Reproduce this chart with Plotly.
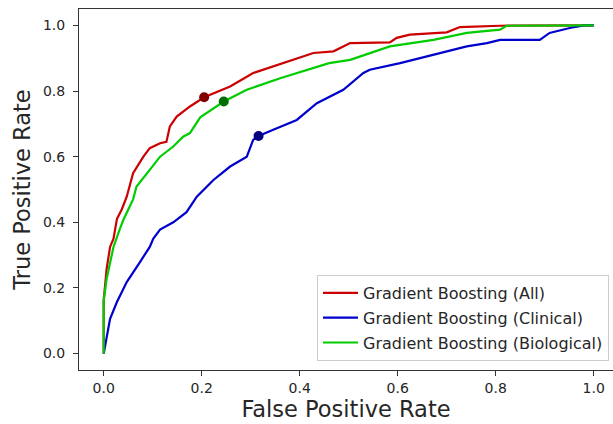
import plotly.graph_objects as go

names = ["Gradient Boosting (All)", "Gradient Boosting (Clinical)", "Gradient Boosting (Biological)"]

fpr_all = [0, 0, 0.006, 0.013, 0.02, 0.027, 0.037, 0.047, 0.06, 0.081, 0.094, 0.115, 0.128, 0.135,
           0.149, 0.176, 0.205, 0.258, 0.305, 0.346, 0.394, 0.428, 0.469, 0.503, 0.584, 0.598, 0.625,
           0.70, 0.727, 0.809, 1.0]
tpr_all = [0, 0.163, 0.258, 0.325, 0.35, 0.41, 0.44, 0.478, 0.55, 0.60, 0.626, 0.641, 0.645, 0.692,
           0.722, 0.753, 0.781, 0.814, 0.855, 0.875, 0.90, 0.916, 0.921, 0.946, 0.948, 0.962, 0.972,
           0.979, 0.995, 0.999, 1.0]

fpr_clin = [0, 0.006, 0.013, 0.027, 0.047, 0.074, 0.094, 0.101, 0.115, 0.142, 0.156, 0.169, 0.19,
            0.224, 0.258, 0.292, 0.305, 0.316, 0.346, 0.394, 0.435, 0.462, 0.489, 0.53, 0.543, 0.605,
            0.686, 0.741, 0.782, 0.809, 0.89, 0.91, 0.951, 0.98, 1.0]
tpr_clin = [0, 0.045, 0.106, 0.157, 0.218, 0.279, 0.325, 0.35, 0.378, 0.40, 0.417, 0.431, 0.478,
            0.529, 0.57, 0.60, 0.651, 0.663, 0.682, 0.712, 0.763, 0.783, 0.804, 0.855, 0.865, 0.885,
            0.916, 0.936, 0.946, 0.956, 0.956, 0.977, 0.992, 1.0, 1.0]

fpr_bio = [0, 0, 0.006, 0.02, 0.033, 0.04, 0.06, 0.067, 0.094, 0.115, 0.142, 0.162, 0.176, 0.197,
           0.245, 0.292, 0.36, 0.40, 0.43, 0.46, 0.503, 0.584, 0.673, 0.741, 0.809, 0.822, 1.0]
tpr_bio = [0, 0.16, 0.228, 0.325, 0.38, 0.407, 0.47, 0.509, 0.56, 0.60, 0.631, 0.661, 0.672, 0.72,
           0.768, 0.804, 0.839, 0.857, 0.872, 0.885, 0.895, 0.936, 0.956, 0.977, 0.987, 0.999, 1.0]

op_fpr = [0.205, 0.316, 0.245]
op_tpr = [0.781, 0.663, 0.768]

tick_vals = [0, 0.2, 0.4, 0.6, 0.8, 1.0]
tick_text = ["0.0", "0.2", "0.4", "0.6", "0.8", "1.0"]

line_colors = ["#cc0000", "#0000cc", "#00cc00"]
dot_colors = ["#800000", "#000080", "#007000"]

series = [(fpr_all, tpr_all), (fpr_clin, tpr_clin), (fpr_bio, tpr_bio)]

fig = go.Figure()
for i, (fx, ty) in enumerate(series):
    fig.add_trace(go.Scatter(x=fx, y=ty, mode="lines", name=names[i],
                             line=dict(color=line_colors[i], width=2.2),
                             legendgroup=str(i)))
for i in range(3):
    fig.add_trace(go.Scatter(x=[op_fpr[i]], y=[op_tpr[i]], mode="markers", showlegend=False,
                             marker=dict(color=dot_colors[i], size=10)))

font = "DejaVu Sans, Arial, sans-serif"
fig.update_layout(
    width=613, height=424,
    margin=dict(l=79, r=0, t=9, b=54),
    plot_bgcolor="white", paper_bgcolor="white",
    font=dict(family=font, color="#262626", size=14),
    showlegend=True,
    legend=dict(x=0.9925, y=0.025, xanchor="right", yanchor="bottom",
                bgcolor="white", bordercolor="#cccccc", borderwidth=1,
                font=dict(size=16, color="#262626"), tracegroupgap=1,
                itemwidth=35),
    xaxis=dict(range=[-0.0504, 1.0394], tickvals=tick_vals, ticktext=tick_text,
               showgrid=False, zeroline=False, showline=True, mirror=True,
               linecolor="#333333", linewidth=1, ticks="outside", ticklen=5,
               tickcolor="#333333", tickfont=dict(size=14),
               title=dict(text="False Positive Rate", font=dict(size=22.5), standoff=4)),
    yaxis=dict(range=[-0.05, 1.05], tickvals=tick_vals, ticktext=tick_text,
               showgrid=False, zeroline=False, showline=True, mirror=False,
               linecolor="#333333", linewidth=1, ticks="outside", ticklen=5,
               tickcolor="#333333", tickfont=dict(size=14), ticklabelstandoff=5,
               title=dict(text="True Positive Rate", font=dict(size=22.5), standoff=6)),
)

fig.write_html("out.html")
